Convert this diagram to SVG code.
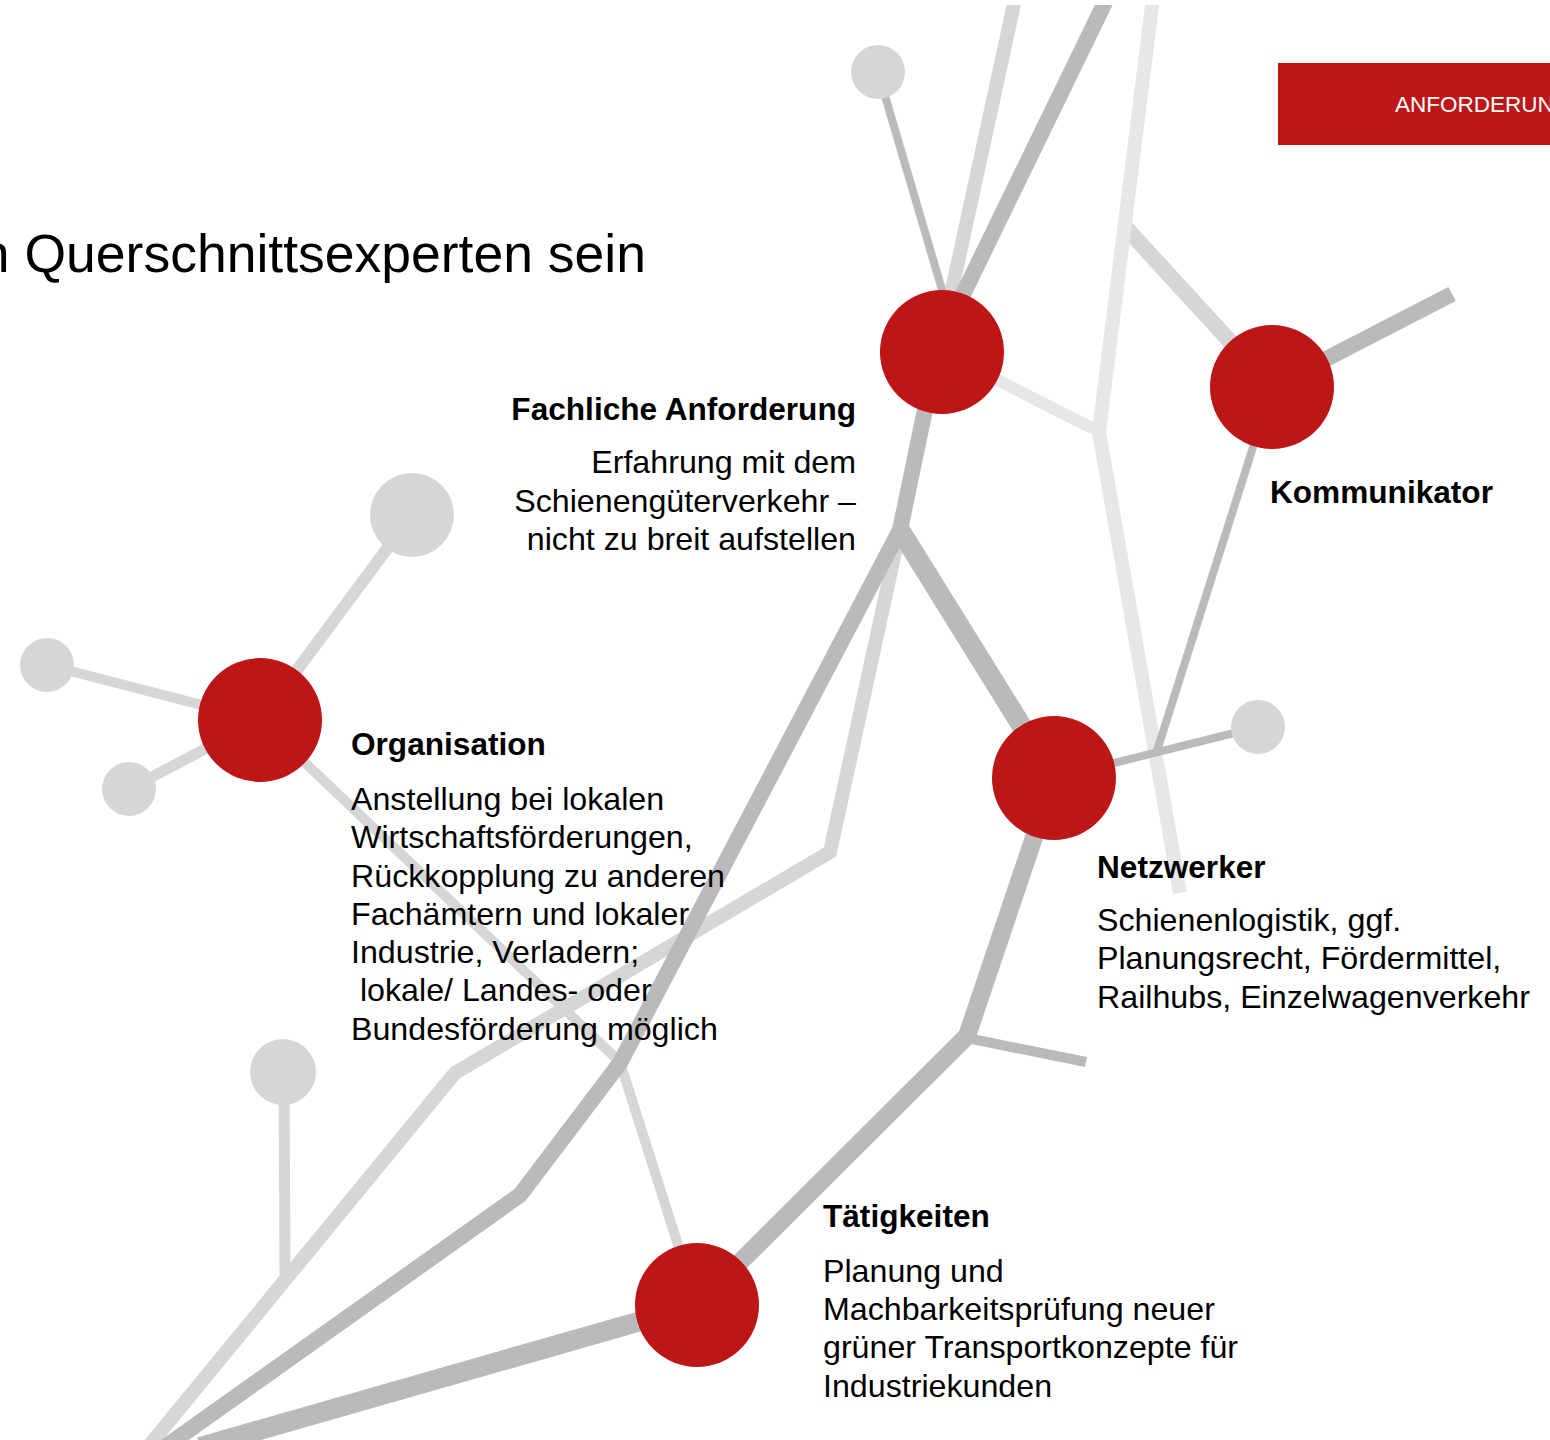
<svg xmlns="http://www.w3.org/2000/svg" width="1550" height="1440" viewBox="0 0 1550 1440">
<style>
.ln{fill:none;stroke-linejoin:miter;stroke-linecap:butt}
.dk{stroke:#bababa}
.lt{stroke:#d6d6d6}
.vl{stroke:#e7e7e7}
.node{fill:#bc1616}
.dot{fill:#d6d6d6}
.t{font-family:"Liberation Sans",Arial,Helvetica,sans-serif;fill:#000}
.h{font-weight:bold;font-size:31.6px}
.b{font-size:32.2px}
</style>
<defs>
<clipPath id="cut"><rect x="0" y="5" width="1550" height="1440"/></clipPath>
</defs>
<rect width="1550" height="1440" fill="#fff"/>
<text class="t" x="646" y="272" font-size="53.5" text-anchor="end">n Querschnittsexperten sein</text>
<g id="banner">
<rect x="1278" y="63" width="280" height="82" fill="#bc1616"/>
<text x="1395" y="112" font-family="Liberation Sans,Arial,sans-serif" font-size="22.5" fill="#fff">ANFORDERUNGEN</text>
</g>
<g id="connectors" class="ln" clip-path="url(#cut)">
<line class="lt" stroke-width="16" x1="1126" y1="228" x2="1272" y2="387"/>
<polyline class="vl" stroke-width="14" points="1154,-10 1099,432 1180,893"/>
<line class="vl" stroke-width="12" x1="942" y1="352" x2="1100" y2="432"/>
<polyline class="lt" stroke-width="14" points="1017,-10 830,852 455,1073 148,1447"/>
<line class="lt" stroke-width="11" x1="284" y1="1072" x2="285" y2="1275"/>
<polyline class="lt" stroke-width="10" points="260,720 620,1062 697,1305"/>
<line class="lt" stroke-width="12" x1="260" y1="720" x2="412" y2="515"/>
<line class="lt" stroke-width="10" x1="260" y1="720" x2="47" y2="665"/>
<line class="lt" stroke-width="11" x1="260" y1="720" x2="129" y2="789"/>
<line class="dk" stroke-width="16" x1="1111" y1="-10" x2="936" y2="350"/>
<line class="dk" stroke-width="8" x1="878" y1="72" x2="945" y2="300"/>
<line class="dk" stroke-width="16" x1="1272" y1="387" x2="1452" y2="294"/>
<line class="dk" stroke-width="8" x1="1272" y1="387" x2="1156" y2="754"/>
<line class="dk" stroke-width="8" x1="1054" y1="778" x2="1258" y2="727"/>
<polyline class="dk" stroke-width="16" points="937,352 900,530 620,1063 520,1195 165,1447"/>
<line class="dk" stroke-width="20" x1="900" y1="530" x2="1054" y2="778"/>
<polyline class="dk" stroke-width="18" points="1054,778 967,1036 697,1305"/>
<line class="dk" stroke-width="10" x1="967" y1="1038" x2="1086" y2="1062"/>
<line class="dk" stroke-width="20" x1="697" y1="1305" x2="200" y2="1447"/>
</g>
<g id="dots">
<circle class="dot" cx="878" cy="72" r="27"/>
<circle class="dot" cx="412" cy="515" r="42"/>
<circle class="dot" cx="47" cy="665" r="27"/>
<circle class="dot" cx="129" cy="789" r="27"/>
<circle class="dot" cx="283" cy="1072" r="33"/>
<circle class="dot" cx="1258" cy="727" r="27"/>
</g>
<g id="node-fachliche">
<circle class="node" cx="942" cy="352" r="62"/>
<text class="t h" x="856" y="420" text-anchor="end">Fachliche Anforderung</text>
<text class="t b" text-anchor="end"><tspan x="856" y="473">Erfahrung mit dem</tspan><tspan x="856" y="512">Schienengüterverkehr –</tspan><tspan x="856" y="550">nicht zu breit aufstellen</tspan></text>
</g>
<g id="node-kommunikator">
<circle class="node" cx="1272" cy="387" r="62"/>
<text class="t h" x="1270" y="503">Kommunikator</text>
</g>
<g id="node-organisation">
<circle class="node" cx="260" cy="720" r="62"/>
<text class="t h" x="351" y="755">Organisation</text>
<text class="t b" xml:space="preserve"><tspan x="351" y="810">Anstellung bei lokalen</tspan><tspan x="351" y="848">Wirtschaftsförderungen,</tspan><tspan x="351" y="887">Rückkopplung zu anderen</tspan><tspan x="351" y="925">Fachämtern und lokaler</tspan><tspan x="351" y="963">Industrie, Verladern;</tspan><tspan x="351" y="1001"> lokale/ Landes- oder</tspan><tspan x="351" y="1040">Bundesförderung möglich</tspan></text>
</g>
<g id="node-netzwerker">
<circle class="node" cx="1054" cy="778" r="62"/>
<text class="t h" x="1097" y="878">Netzwerker</text>
<text class="t b"><tspan x="1097" y="931">Schienenlogistik, ggf.</tspan><tspan x="1097" y="969">Planungsrecht, Fördermittel,</tspan><tspan x="1097" y="1008">Railhubs, Einzelwagenverkehr</tspan></text>
</g>
<g id="node-taetigkeiten">
<circle class="node" cx="697" cy="1305" r="62"/>
<text class="t h" x="823" y="1227">Tätigkeiten</text>
<text class="t b"><tspan x="823" y="1282">Planung und</tspan><tspan x="823" y="1320">Machbarkeitsprüfung neuer</tspan><tspan x="823" y="1358">grüner Transportkonzepte für</tspan><tspan x="823" y="1397">Industriekunden</tspan></text>
</g>
</svg>
